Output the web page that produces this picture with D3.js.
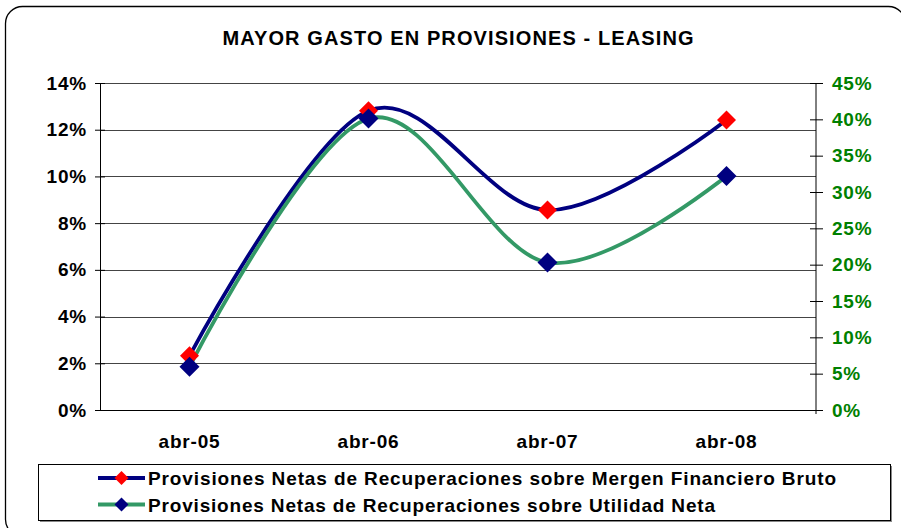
<!DOCTYPE html>
<html>
<head>
<meta charset="utf-8">
<script src="https://cdn.jsdelivr.net/npm/d3@7"></script>
<style>
    body { margin: 0; background: #ffffff; }
    svg { display: block; font-family: Arial, "Liberation Sans", sans-serif; }
</style>
</head>
<body>
<div id="chart"></div>
<script>
let categories = ['abr-05', 'abr-06', 'abr-07', 'abr-08'];
let margenBruto = [0.0232, 0.1281, 0.0856, 0.1242];
let utilidadNeta = [0.0596, 0.401, 0.203, 0.322];
let leftTicks = [0, 0.02, 0.04, 0.06, 0.08, 0.10, 0.12, 0.14];
let rightTicks = [0, 0.05, 0.10, 0.15, 0.20, 0.25, 0.30, 0.35, 0.40, 0.45];
let seriesNames = [
    'Provisiones Netas de Recuperaciones sobre Mergen Financiero Bruto',
    'Provisiones Netas de Recuperaciones sobre Utilidad Neta'
];

let width = 901;
let height = 528;
let plot = { left: 100, right: 816, top: 83, bottom: 410 };

const svg = d3.select('#chart').append('svg').attr('width', width).attr('height', height);

// outer frame, cut by the picture edge on the right and bottom
svg.append('rect')
    .attr('x', 5.5).attr('y', 6.5)
    .attr('width', 900).attr('height', 530)
    .attr('rx', 17)
    .attr('fill', 'none')
    .attr('stroke', '#000')
    .attr('stroke-width', 1.3);

svg.append('text')
    .attr('x', 458).attr('y', 45)
    .attr('text-anchor', 'middle')
    .attr('font-size', 20).attr('font-weight', 'bold')
    .attr('textLength', 471).attr('lengthAdjust', 'spacing')
    .text('MAYOR GASTO EN PROVISIONES - LEASING');

let x = d3.scaleBand().domain(categories).range([plot.left, plot.right]);
let yLeft = d3.scaleLinear().domain([0, 0.14]).range([plot.bottom, plot.top]);
let yRight = d3.scaleLinear().domain([0, 0.45]).range([plot.bottom, plot.top]);
let cx = d => x(d) + x.bandwidth() / 2;

// gridlines
svg.append('g')
    .selectAll('line')
    .data(leftTicks)
    .join('line')
    .attr('x1', plot.left).attr('x2', plot.right)
    .attr('y1', d => Math.round(yLeft(d)) + 0.5)
    .attr('y2', d => Math.round(yLeft(d)) + 0.5)
    .attr('stroke', '#444')
    .attr('stroke-width', 1);

let pct = d3.format('.0%');

let leftAxis = svg.append('g')
    .attr('transform', `translate(${plot.left},0)`)
    .call(d3.axisLeft(yLeft).tickValues(leftTicks).tickFormat(pct).tickSizeOuter(0).tickSize(5).tickPadding(8));
leftAxis.selectAll('.tick line').attr('x2', 5).attr('x1', -5);
leftAxis.selectAll('text')
    .attr('font-size', 19).attr('font-weight', 'bold')
    .attr('font-family', 'Arial, "Liberation Sans", sans-serif')
    .attr('letter-spacing', 0.8)
    .attr('fill', '#000');

let rightAxis = svg.append('g')
    .attr('transform', `translate(${plot.right},0)`)
    .call(d3.axisRight(yRight).tickValues(rightTicks).tickFormat(pct).tickSizeOuter(0).tickSize(7).tickPadding(9));
rightAxis.select('.domain').attr('d', `M0,${plot.top}V${plot.bottom + 4}`);
rightAxis.selectAll('.tick line').attr('x1', -6).attr('x2', 7);
rightAxis.selectAll('text')
    .attr('font-size', 19).attr('font-weight', 'bold')
    .attr('font-family', 'Arial, "Liberation Sans", sans-serif')
    .attr('letter-spacing', 0.8)
    .attr('fill', '#008000');

let bottomAxis = svg.append('g')
    .attr('transform', `translate(0,${plot.bottom})`)
    .call(d3.axisBottom(x).tickSize(0).tickPadding(25).tickSizeOuter(0));
bottomAxis.selectAll('text')
    .attr('font-size', 19).attr('font-weight', 'bold')
    .attr('font-family', 'Arial, "Liberation Sans", sans-serif')
    .attr('letter-spacing', 0.8)
    .attr('fill', '#000');

// series lines
let line1 = d3.line().x((d, i) => cx(categories[i])).y(d => yLeft(d)).curve(d3.curveCardinal);
let line2 = d3.line().x((d, i) => cx(categories[i])).y(d => yRight(d)).curve(d3.curveCardinal);

let diamond = s => `M0,${-s}L${s},0L0,${s}L${-s},0Z`;

svg.append('path')
    .attr('d', line1(margenBruto))
    .attr('fill', 'none')
    .attr('stroke', '#000080')
    .attr('stroke-width', 3.8);

svg.append('path')
    .attr('d', line2(utilidadNeta))
    .attr('fill', 'none')
    .attr('stroke', '#339966')
    .attr('stroke-width', 3.8);

svg.append('g')
    .selectAll('path')
    .data(margenBruto)
    .join('path')
    .attr('d', diamond(9.5))
    .attr('transform', (d, i) => `translate(${cx(categories[i])},${yLeft(d)})`)
    .attr('fill', '#ff0000');

svg.append('g')
    .selectAll('path')
    .data(utilidadNeta)
    .join('path')
    .attr('d', diamond(10))
    .attr('transform', (d, i) => `translate(${cx(categories[i])},${yRight(d)})`)
    .attr('fill', '#000080');

// legend
let legend = svg.append('g');
legend.append('rect')
    .attr('x', 40).attr('y', 466)
    .attr('width', 852).attr('height', 56)
    .attr('fill', '#888');
legend.append('rect')
    .attr('x', 38.5).attr('y', 464.5)
    .attr('width', 852).attr('height', 56)
    .attr('fill', '#fff')
    .attr('stroke', '#000')
    .attr('stroke-width', 1);

let legendRows = [
    { name: seriesNames[0], line: '#000080', marker: '#ff0000', y: 478, len: 688 },
    { name: seriesNames[1], line: '#339966', marker: '#000080', y: 504.5, len: 567 }
];
legendRows.forEach(r => {
    legend.append('line')
        .attr('x1', 98).attr('x2', 145)
        .attr('y1', r.y).attr('y2', r.y)
        .attr('stroke', r.line)
        .attr('stroke-width', 4);
    legend.append('path')
        .attr('d', diamond(7))
        .attr('transform', `translate(121.5,${r.y})`)
        .attr('fill', r.marker);
    legend.append('text')
        .attr('x', 148).attr('y', r.y + 7)
        .attr('font-size', 19).attr('font-weight', 'bold')
        .attr('textLength', r.len).attr('lengthAdjust', 'spacing')
        .text(r.name);
});
</script>
</body>
</html>
